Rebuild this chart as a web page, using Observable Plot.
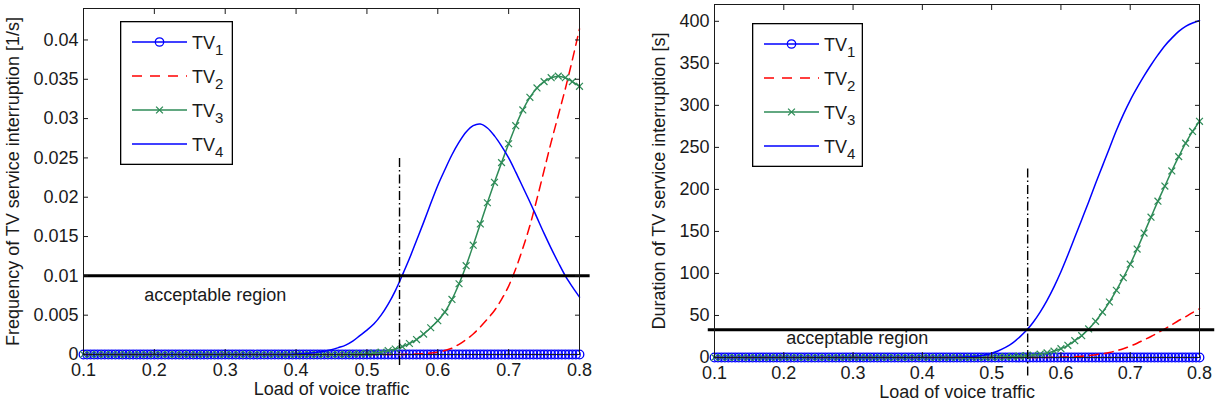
<!DOCTYPE html>
<html>
<head>
<meta charset="utf-8">
<script src="https://cdn.jsdelivr.net/npm/d3@7"></script>
<script src="https://cdn.jsdelivr.net/npm/@observablehq/plot@0.6"></script>
<style>
html, body { margin: 0; padding: 0; background: #fff; }
#wrap { position: relative; width: 1219px; height: 416px; overflow: hidden; font-family: "Liberation Sans", Arial, Helvetica, sans-serif; }
.panel { position: absolute; top: 0; }
.legend { position: absolute; }
</style>
</head>
<body>
<div id="wrap">
  <div id="p1" class="panel" style="left:0px"></div>
  <div id="p2" class="panel" style="left:610px"></div>
</div>
<script>
// ---------- data ----------
const xTicks = [0.1, 0.2, 0.3, 0.4, 0.5, 0.6, 0.7, 0.8];
const freqTicks = [0, 0.005, 0.01, 0.015, 0.02, 0.025, 0.03, 0.035, 0.04];
const durTicks = [0, 50, 100, 150, 200, 250, 300, 350, 400];
const seriesNames = ["TV", "TV", "TV", "TV"];
const seriesIndex = ["1", "2", "3", "4"];
const xLabel = "Load of voice traffic";
const freqLabel = "Frequency of TV service interruption [1/s]";
const durLabel = "Duration of TV service interruption [s]";
const noteText = "acceptable region";

// load grid of the curves (0.10 ... 0.80)
const load = [
  0.10, 0.11, 0.12, 0.13, 0.14, 0.15, 0.16, 0.17, 0.18, 0.19,
  0.20, 0.21, 0.22, 0.23, 0.24, 0.25, 0.26, 0.27, 0.28, 0.29,
  0.30, 0.31, 0.32, 0.33, 0.34, 0.35, 0.36, 0.37, 0.38, 0.39,
  0.40, 0.41, 0.42, 0.43, 0.44, 0.45, 0.46, 0.47, 0.48, 0.49,
  0.50, 0.51, 0.52, 0.53, 0.54, 0.55, 0.56, 0.57, 0.58, 0.59,
  0.60, 0.61, 0.62, 0.63, 0.64, 0.65, 0.66, 0.67, 0.68, 0.69,
  0.70, 0.71, 0.72, 0.73, 0.74, 0.75, 0.76, 0.77, 0.78, 0.79,
  0.80
];

// TV1 sampled more finely (circles), always zero
const loadFine = [
  0.100, 0.105, 0.110, 0.115, 0.120, 0.125, 0.130, 0.135, 0.140, 0.145,
  0.150, 0.155, 0.160, 0.165, 0.170, 0.175, 0.180, 0.185, 0.190, 0.195,
  0.200, 0.205, 0.210, 0.215, 0.220, 0.225, 0.230, 0.235, 0.240, 0.245,
  0.250, 0.255, 0.260, 0.265, 0.270, 0.275, 0.280, 0.285, 0.290, 0.295,
  0.300, 0.305, 0.310, 0.315, 0.320, 0.325, 0.330, 0.335, 0.340, 0.345,
  0.350, 0.355, 0.360, 0.365, 0.370, 0.375, 0.380, 0.385, 0.390, 0.395,
  0.400, 0.405, 0.410, 0.415, 0.420, 0.425, 0.430, 0.435, 0.440, 0.445,
  0.450, 0.455, 0.460, 0.465, 0.470, 0.475, 0.480, 0.485, 0.490, 0.495,
  0.500, 0.505, 0.510, 0.515, 0.520, 0.525, 0.530, 0.535, 0.540, 0.545,
  0.550, 0.555, 0.560, 0.565, 0.570, 0.575, 0.580, 0.585, 0.590, 0.595,
  0.600, 0.605, 0.610, 0.615, 0.620, 0.625, 0.630, 0.635, 0.640, 0.645,
  0.650, 0.655, 0.660, 0.665, 0.670, 0.675, 0.680, 0.685, 0.690, 0.695,
  0.700, 0.705, 0.710, 0.715, 0.720, 0.725, 0.730, 0.735, 0.740, 0.745,
  0.750, 0.755, 0.760, 0.765, 0.770, 0.775, 0.780, 0.785, 0.790, 0.795,
  0.800
];
const tv1 = [
  0,0,0,0,0,0,0,0,0,0, 0,0,0,0,0,0,0,0,0,0,
  0,0,0,0,0,0,0,0,0,0, 0,0,0,0,0,0,0,0,0,0,
  0,0,0,0,0,0,0,0,0,0, 0,0,0,0,0,0,0,0,0,0,
  0,0,0,0,0,0,0,0,0,0, 0,0,0,0,0,0,0,0,0,0,
  0,0,0,0,0,0,0,0,0,0, 0,0,0,0,0,0,0,0,0,0,
  0,0,0,0,0,0,0,0,0,0, 0,0,0,0,0,0,0,0,0,0,
  0,0,0,0,0,0,0,0,0,0, 0,0,0,0,0,0,0,0,0,0,
  0
];

// Frequency of TV service interruption [1/s]
const freqTV2 = [
  0,0,0,0,0,0,0,0,0,0,
  0,0,0,0,0,0,0,0,0,0,
  0,0,0,0,0,0,0,0,0,0,
  0,0,0,0,0,0,0,0,0,0,
  0,0,0,0,0,0, 0.00003, 0.00006, 0.0001, 0.0002,
  0.0003, 0.0005, 0.0008, 0.0013, 0.0019, 0.0026, 0.0035, 0.0045, 0.0056, 0.0070,
  0.0087, 0.0109, 0.0135, 0.0164, 0.0198, 0.0234, 0.0270, 0.0304, 0.0338, 0.0375,
  0.0414
];
const freqTV3 = [
  0,0,0,0,0,0,0,0,0,0,
  0,0,0,0,0,0,0,0,0,0,
  0,0,0,0,0,0,0,0,0,0,
  0,0,0,0,0,0,0, 0.00002, 0.00004, 0.00007,
  0.0001, 0.0002, 0.0003, 0.0005, 0.0007, 0.0010, 0.0014, 0.0019, 0.0026, 0.0034,
  0.0043, 0.0054, 0.0070, 0.0090, 0.0113, 0.0139, 0.0166, 0.0193, 0.0219, 0.0244,
  0.0268, 0.0291, 0.0311, 0.0327, 0.0339, 0.0347, 0.0352, 0.0354, 0.0352, 0.0347,
  0.0341
];
const freqTV4 = [
  0,0,0,0,0,0,0,0,0,0,
  0,0,0,0,0,0,0,0,0,0,
  0,0,0,0,0,0,0,0,0,0,
  0.00007, 0.0001, 0.00018, 0.00028, 0.0004, 0.0006, 0.00088, 0.0012, 0.0017, 0.0024,
  0.0031, 0.0039, 0.0050, 0.0064, 0.0081, 0.0101, 0.0122, 0.0145, 0.0168, 0.0192,
  0.0215, 0.0235, 0.0254, 0.0270, 0.0283, 0.0291, 0.0293, 0.0288, 0.0278, 0.0265,
  0.0250, 0.0232, 0.0213, 0.0194, 0.0174, 0.0154, 0.0135, 0.0117, 0.0100, 0.0086,
  0.0073
];

// Duration of TV service interruption [s]
const durTV2 = [
  0,0,0,0,0,0,0,0,0,0,
  0,0,0,0,0,0,0,0,0,0,
  0,0,0,0,0,0,0,0,0,0,
  0,0,0,0,0,0,0,0,0,0,
  0,0,0,0,0,0,0,0, 0.1, 0.2,
  0.4, 0.6, 1, 1.5, 2.3, 3.3, 4.5, 6, 8, 10.5,
  13.5, 17, 21, 25, 29.5, 34, 39, 44, 48.5, 53.5,
  58
];
const durTV3 = [
  0,0,0,0,0,0,0,0,0,0,
  0,0,0,0,0,0,0,0,0,0,
  0,0,0,0,0,0,0,0,0,0,
  0,0,0,0,0,0,0,0,0,0,
  0.2, 0.4, 0.7, 1.1, 1.6, 2.2, 3, 4, 5.5, 7.5,
  10.5, 14.5, 20, 26, 34, 43, 54, 66, 80, 95,
  111, 129, 148, 167, 186, 204, 222, 239, 255, 269,
  281
];
const durTV4 = [
  0,0,0,0,0,0,0,0,0,0,
  0,0,0,0,0,0,0,0,0,0,
  0,0,0,0,0,0,0,0,0,0,
  0,0,0,0, 0.1, 0.2, 0.5, 1, 1.8, 3,
  5, 8, 12, 17, 24, 32, 42, 54, 68, 84,
  102, 122, 143, 164, 185, 207, 228, 249, 270, 289,
  306, 321, 335, 348, 360, 371, 380, 388, 394, 398,
  401
];

// reference lines and annotations
const freqLimit = [{y: 0.01, x1: 0.1, x2: 0.815}];
const durLimit = [{y: 33, x1: 0.091, x2: 0.822}];
const freqGuide = [{x: 0.546, y1: -0.0014, y2: 0.025}];
const durGuide = [{x: 0.552, y1: -22, y2: 226}];
const freqNote = [{x: 0.286, y: 0.0075, text: noteText}];
const durNote = [{x: 0.306, y: 22.6, text: noteText}];

// ---------- drawing ----------
const BLUE = "#0000ff", RED = "#ff0000", GREEN = "#2e8b57", INK = "#1a1a1a";
const FONT = "'Liberation Sans', Arial, Helvetica, sans-serif";

function rows(xs, ys) { return xs.map((x, i) => ({x, y: ys[i]})); }

function panel(cfg) {
  const tv1Rows = rows(loadFine, tv1);
  const r2 = rows(load, cfg.tv2), r3 = rows(load, cfg.tv3), r4 = rows(load, cfg.tv4);
  const fmt = d => String(d);
  return Plot.plot({
    width: cfg.width,
    height: 416,
    marginLeft: cfg.ml, marginRight: cfg.mr, marginTop: cfg.mt, marginBottom: cfg.mb,
    x: {domain: [0.1, 0.8]},
    y: {domain: cfg.yDomain},
    style: {fontFamily: FONT, fontSize: "18px", color: INK, background: "white", overflow: "visible"},
    marks: [
      Plot.line(tv1Rows, {x: "x", y: "y", stroke: BLUE, strokeWidth: 1.2}),
      Plot.dot(tv1Rows, {x: "x", y: "y", r: 4.3, stroke: BLUE, fill: "none", strokeWidth: 1.3}),
      Plot.line(r2, {x: "x", y: "y", stroke: RED, strokeWidth: 1.5, strokeDasharray: "9,6", curve: "catmull-rom"}),
      Plot.line(r3, {x: "x", y: "y", stroke: GREEN, strokeWidth: 1.5, curve: "catmull-rom"}),
      Plot.dot(r3, {x: "x", y: "y", symbol: "times", r: 3.2, stroke: GREEN, strokeWidth: 1.2}),
      Plot.line(r4, {x: "x", y: "y", stroke: BLUE, strokeWidth: 1.5, curve: "catmull-rom"}),
      Plot.ruleY(cfg.limit, {y: "y", x1: "x1", x2: "x2", stroke: "black", strokeWidth: 3}),
      Plot.ruleX(cfg.guide, {x: "x", y1: "y1", y2: "y2", stroke: "black", strokeWidth: 1.4, strokeDasharray: "9,3,1.5,3"}),
      Plot.text(cfg.note, {x: "x", y: "y", text: "text", fill: INK}),
      Plot.frame({stroke: INK, strokeWidth: 1}),
      // tick labels
      Plot.axisX(xTicks, {anchor: "bottom", tickSize: 0, tickPadding: 9, tickFormat: fmt, label: null}),
      Plot.axisY(cfg.yTicks, {anchor: "left", tickSize: 0, tickPadding: 5, tickFormat: fmt, label: null}),
      // inward ticks on all four sides
      Plot.axisX(xTicks, {anchor: "bottom", tickSize: 5, dy: -5, tickFormat: () => "", label: null}),
      Plot.axisX(xTicks, {anchor: "top", tickSize: 5, dy: 5, tickFormat: () => "", label: null}),
      Plot.axisY(cfg.yTicks, {anchor: "left", tickSize: 5, dx: 5, tickFormat: () => "", label: null}),
      Plot.axisY(cfg.yTicks, {anchor: "right", tickSize: 5, dx: -5, tickFormat: () => "", label: null}),
      // axis titles
      Plot.text([xLabel], {frameAnchor: "bottom", dy: cfg.xLabelDy, textAnchor: "middle", text: d => d, fill: INK}),
      Plot.text([cfg.yLabel], {frameAnchor: "left", dx: cfg.yLabelDx, rotate: -90, textAnchor: "middle", text: d => d, fill: INK})
    ]
  });
}

document.getElementById("p1").appendChild(panel({
  width: 610, ml: 83, mr: 31, mt: 8, mb: 62,
  yDomain: [0, 0.044], yTicks: freqTicks, yLabel: freqLabel,
  tv2: freqTV2, tv3: freqTV3, tv4: freqTV4,
  limit: freqLimit, guide: freqGuide, note: freqNote,
  xLabelDy: 40, yLabelDx: -70
}));
document.getElementById("p2").appendChild(panel({
  width: 609, ml: 104, mr: 20, mt: 4, mb: 59,
  yDomain: [0, 420], yTicks: durTicks, yLabel: durLabel,
  tv2: durTV2, tv3: durTV3, tv4: durTV4,
  limit: durLimit, guide: durGuide, note: durNote,
  xLabelDy: 40, yLabelDx: -55
}));

// ---------- legends ----------
function legend(left, top, w, h) {
  const svg = d3.select("#wrap").append("svg")
    .attr("class", "legend")
    .style("left", left + "px").style("top", top + "px")
    .attr("width", w).attr("height", h)
    .style("font-family", FONT);
  svg.append("rect").attr("x", 0.65).attr("y", 0.65).attr("width", w - 1.3).attr("height", h - 1.3)
    .attr("fill", "white").attr("stroke", "black").attr("stroke-width", 1.3);
  const rowY = [21, 55, 89, 123];
  const lineX0 = 12, lineX1 = 67, mid = (lineX0 + lineX1) / 2;
  const styles = [
    {stroke: BLUE, dash: null, marker: "circle"},
    {stroke: RED, dash: "10,8", marker: null},
    {stroke: GREEN, dash: null, marker: "times"},
    {stroke: BLUE, dash: null, marker: null}
  ];
  seriesNames.forEach((name, i) => {
    const y = rowY[i], s = styles[i];
    svg.append("line").attr("x1", lineX0).attr("x2", lineX1).attr("y1", y).attr("y2", y)
      .attr("stroke", s.stroke).attr("stroke-width", 1.5).attr("stroke-dasharray", s.dash);
    if (s.marker === "circle") {
      svg.append("circle").attr("cx", mid).attr("cy", y).attr("r", 4.2)
        .attr("fill", "none").attr("stroke", s.stroke).attr("stroke-width", 1.3);
    } else if (s.marker === "times") {
      svg.append("path").attr("d", `M${mid-3.4},${y-3.4}L${mid+3.4},${y+3.4}M${mid-3.4},${y+3.4}L${mid+3.4},${y-3.4}`)
        .attr("stroke", s.stroke).attr("stroke-width", 1.3);
    }
    const t = svg.append("text").attr("x", 72).attr("y", y + 6.5).attr("fill", INK).style("font-size", "18px");
    t.append("tspan").text(name);
    t.append("tspan").attr("dy", 6.6).style("font-size", "15px").text(seriesIndex[i]);
  });
}
legend(120, 21, 113, 144);
legend(752, 23, 111, 144);
</script>
</body>
</html>
